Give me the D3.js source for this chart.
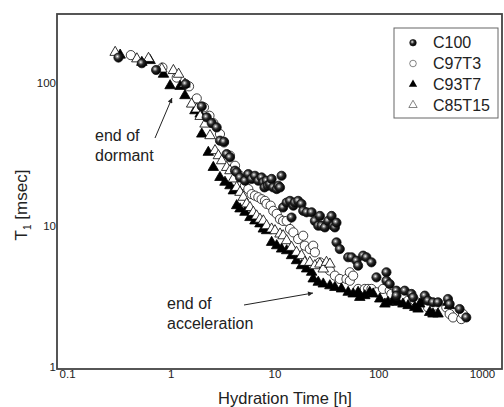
<!DOCTYPE html>
<meta charset="utf-8">
<title>T1 vs hydration time</title>
<style>
body {
  margin: 0;
  background: #fff;
}
text {
  font-family: Arial, "Liberation Sans", sans-serif;
  fill: #222;
}
</style>
<body>
<script src="https://cdnjs.cloudflare.com/ajax/libs/d3/7.8.5/d3.min.js"></script>
<script>
var seriesNames = ["C100", "C97T3", "C93T7", "C85T15"];

// [hydration time (h), T1 (msec)]
var c100 = [[0.313,149],[0.526,136],[0.722,122],[1.39,97.3],[1.99,68.0],[2.22,57.0],[2.48,52.0],[2.77,48.5],
  [2.98,39.2],[3.26,38.5],[3.46,31.6],[3.72,30.0],[4.16,24.2],[4.32,23.6],[4.65,21.7],[5.19,20.6],[5.59,22.9],
  [6.02,21.2],[6.48,22.3],[6.98,20.6],[7.51,21.7],[7.80,20.1],[8.0,18.5],[8.39,20.6],[8.6,19.0],[9.03,19.5],
  [9.38,21.2],[9.73,18.5],[10.5,18.0],[10.9,19.0],[11.3,18.5],[11.7,22.3],[12.1,13.4],[13.1,14.5],[14.1,14.9],
  [14.6,11.4],[15.2,13.8],[15.7,14.5],[16.9,14.9],[18.2,14.2],[18.9,12.7],[20.4,12.4],[22.8,12.4],[24.5,10.8],
  [26.4,10.0],[27.4,11.7],[28.4,10.0],[30.6,9.73],[32.9,10.8],[35.5,11.7],[36.8,10.0],[38.2,9.73],[39.6,10.5],
  [39.6,7.65],[42.6,6.87],[51.3,6.02],[55.2,6.02],[61.7,5.70],[64.0,5.26],[71.5,6.18],[76.9,6.02],[86.0,5.55],
  [96.1,4.36],[120,4.73],[120,4.13],[129,3.92],[150,3.52],[150,3.25],[180,3.52],[209,3.34],[217,3.16],
  [281,3.25],[302,3.00],[337,2.92],[377,2.92],[470,3.08],[488,2.84],[609,2.62],[706,2.29]];

var c97t3 = [[0.412,155],[0.831,127],[1.14,108],[1.50,93.8],[1.78,77.3],[2.09,67.0],[2.36,58.5],[2.57,52.0],
  [2.98,43.6],[3.26,38.1],[3.72,30.8],[4.16,26.2],[4.65,22.3],[5.19,19.0],[5.59,18.0],[6.02,16.6],[6.48,16.2],
  [6.98,15.8],[7.51,15.3],[8.09,14.9],[8.39,14.2],[9.17,13.8],[9.73,12.7],[10.5,12.1],[11.3,11.1],[12.1,10.8],
  [13.1,10.8],[14.1,9.48],[15.2,8.98],[16.9,8.07],[18.9,8.51],[19.6,7.25],[21.9,6.87],[23.6,7.25],[24.5,6.52],
  [27.4,5.55],[30.6,5.26],[34.2,4.86],[38.2,4.48],[42.6,4.25],[49.4,4.25],[53.2,4.73],[53.2,4.13],[57.3,4.48],
  [64.0,3.62],[74.2,3.62],[79.8,3.62],[86.0,3.62],[96.1,3.43],[111,3.62],[129,3.52],[134,3.34],[155,3.16],
  [173,3.16],[194,3.00],[225,3.00],[291,3.00],[302,2.69],[350,2.77],[453,2.69],[488,2.42],[526,2.29],
  [632,2.23],[656,2.42]];

var c93t7 = [[0.325,155],[0.526,138],[0.632,142],[0.850,114],[0.985,94.8],[1.23,93.8],[1.37,80.8],[1.71,63.4],
  [1.92,60.1],[1.99,43.6],[2.30,32.5],[2.57,25.5],[2.98,21.7],[3.33,20.1],[3.72,19.0],[4.01,17.5],[4.32,13.8],
  [4.65,13.1],[5.19,12.4],[5.80,11.4],[6.48,10.8],[7.24,10.3],[7.80,9.48],[8.39,9.23],[9.38,7.65],[10.5,7.25],
  [11.7,6.87],[13.1,6.69],[14.6,6.18],[16.3,5.70],[18.2,5.26],[20.4,4.99],[22.8,4.73],[23.6,4.25],[26.4,4.03],
  [29.5,3.92],[34.2,3.81],[38.2,3.71],[44.2,3.62],[51.3,3.43],[57.3,3.34],[64.0,3.43],[66.4,3.16],[74.2,3.25],
  [82.8,3.43],[89.3,3.34],[103.5,3.08],[116,2.84],[124,2.92],[139,3.00],[155,2.92],[173,2.84],[194,2.77],
  [225,2.69],[242,2.62],[251,2.84],[270,3.00],[313,2.48],[337,2.42],[377,2.42],[470,2.92],[488,2.77]];

var c85t15 = [[0.291,162],[0.471,146],[0.610,147],[0.819,124],[1.06,121],[1.19,114],[1.37,97.3],[1.59,70.6],
  [1.78,65.2],[1.92,57.9],[2.14,51.2],[2.39,42.5],[2.67,33.4],[2.88,30.8],[3.10,28.4],[3.46,25.5],[3.72,24.2],
  [4.01,21.2],[4.32,18.5],[4.65,17.1],[5.00,15.8],[5.39,14.2],[5.80,13.4],[6.25,12.4],[6.72,11.7],[7.24,11.1],
  [7.80,10.8],[8.39,10.0],[9.38,9.48],[10.1,9.23],[11.3,8.75],[12.1,8.51],[13.1,7.86],[14.6,7.06],[16.3,6.52],
  [18.2,6.18],[19.6,5.55],[21.9,5.55],[24.5,5.26],[27.4,5.40],[29.5,4.99],[31.7,5.55],[34.2,5.40]];

var xTicks = [0.1, 1, 10, 100, 1000];
var yTicks = [1, 10, 100];

var w = 504,
    h = 407,
    plotLeft = 57,
    plotRight = 502,
    plotTop = 14,
    plotBottom = 369;

var svg = d3.select("body").append("svg")
    .attr("width", w)
    .attr("height", h);

var defs = svg.append("defs");
var grad = defs.append("radialGradient")
    .attr("id", "ball")
    .attr("cx", "38%").attr("cy", "38%").attr("r", "60%");
grad.append("stop").attr("offset", "0%").attr("stop-color", "#fff");
grad.append("stop").attr("offset", "20%").attr("stop-color", "#999");
grad.append("stop").attr("offset", "50%").attr("stop-color", "#2a2a2a");
grad.append("stop").attr("offset", "100%").attr("stop-color", "#000");

var x = d3.scaleLog().domain([0.08, 1560]).range([plotLeft, plotRight]);
var y = d3.scaleLog().domain([1, 300]).range([plotBottom, plotTop]);

// frame
svg.append("rect")
    .attr("x", plotLeft).attr("y", plotTop)
    .attr("width", plotRight - plotLeft).attr("height", plotBottom - plotTop)
    .style("fill", "none")
    .style("stroke", "#444")
    .style("stroke-width", 1.8);

// axes (labels only, no tick marks)
svg.append("g")
    .attr("transform", "translate(0," + plotBottom + ")")
    .call(d3.axisBottom(x).tickValues(xTicks).tickSize(0).tickPadding(1)
      .tickFormat(function(d) { return d < 1 ? "0.1" : d3.format("d")(d); }))
    .call(function(g) { g.select(".domain").remove(); })
    .selectAll("text")
      .style("font-size", "11.5px")
      .style("font-family", "Arial, 'Liberation Sans', sans-serif")
      .attr("fill", "#222");

svg.append("g")
    .attr("transform", "translate(" + plotLeft + ",0)")
    .call(d3.axisLeft(y).tickValues(yTicks).tickSize(0).tickPadding(1).tickFormat(d3.format("d")))
    .call(function(g) { g.select(".domain").remove(); })
    .selectAll("text")
      .style("font-size", "11.5px")
      .style("font-family", "Arial, 'Liberation Sans', sans-serif")
      .attr("fill", "#222")
      .attr("dy", function(d) { return d === 1 ? "0.1em" : "0.32em"; });

// axis titles
svg.append("text")
    .attr("x", 285).attr("y", 404)
    .attr("text-anchor", "middle")
    .style("font-size", "16.5px")
    .text("Hydration Time [h]");

var yt = svg.append("text")
    .attr("transform", "translate(27,205) rotate(-90)")
    .attr("text-anchor", "middle")
    .style("font-size", "17px");
yt.append("tspan").text("T");
yt.append("tspan").attr("dy", 4).style("font-size", "10px").text("1");
yt.append("tspan").attr("dy", -4).text(" [msec]");

// symbols
var tri = d3.symbol().type(d3.symbolTriangle).size(48);
var triLegend = d3.symbol().type(d3.symbolTriangle).size(30);

function drawCircles(data, r, fill, stroke) {
  svg.append("g").selectAll("circle")
      .data(data)
    .enter().append("circle")
      .attr("cx", function(d) { return x(d[0]); })
      .attr("cy", function(d) { return y(d[1]); })
      .attr("r", r)
      .style("fill", fill)
      .style("stroke", stroke)
      .style("stroke-width", 0.8);
}

function drawTriangles(data, fill) {
  svg.append("g").selectAll("path")
      .data(data)
    .enter().append("path")
      .attr("transform", function(d) { return "translate(" + x(d[0]) + "," + y(d[1]) + ")"; })
      .attr("d", tri)
      .style("fill", fill)
      .style("stroke", "#000")
      .style("stroke-width", 0.8);
}

drawCircles(c97t3, 4.6, "#fff", "#111");
drawTriangles(c93t7, "#000");
drawTriangles(c85t15, "#fff");
drawCircles(c100, 4.6, "url(#ball)", "#111");

// annotations
svg.append("defs").append("marker")
    .attr("id", "arrow")
    .attr("viewBox", "0 0 10 10")
    .attr("refX", 10).attr("refY", 5)
    .attr("markerWidth", 7).attr("markerHeight", 5)
    .attr("orient", "auto")
  .append("path")
    .attr("d", "M0,0L10,5L0,10z")
    .style("fill", "#222");

function note(lines, tx, ty, from, to) {
  var t = svg.append("text")
      .attr("x", tx).attr("y", ty)
      .style("font-size", "16px");
  lines.forEach(function(l, i) {
    t.append("tspan").attr("x", tx).attr("dy", i ? 20 : 0).text(l);
  });
  svg.append("line")
      .attr("x1", from[0]).attr("y1", from[1])
      .attr("x2", to[0]).attr("y2", to[1])
      .style("stroke", "#222")
      .style("stroke-width", 1)
      .attr("marker-end", "url(#arrow)");
}
note(["end of", "dormant"], 95, 141, [155, 138], [172, 98]);
note(["end of", "acceleration"], 167, 309, [244, 305], [313, 293]);

// legend
var lg = svg.append("g");
lg.append("rect")
    .attr("x", 394).attr("y", 28)
    .attr("width", 104).attr("height", 90)
    .style("fill", "#fff")
    .style("stroke", "#666")
    .style("stroke-width", 1);

var rows = lg.selectAll("g.row")
    .data(seriesNames)
  .enter().append("g")
    .attr("transform", function(d, i) { return "translate(413," + (42.7 + i * 20.8) + ")"; });

rows.each(function(d, i) {
  var g = d3.select(this);
  if (i === 0) g.append("circle").attr("r", 3.3).style("fill", "url(#ball)").style("stroke", "#111").style("stroke-width", 0.6);
  if (i === 1) g.append("circle").attr("r", 3.3).style("fill", "#fff").style("stroke", "#333").style("stroke-width", 0.6);
  if (i === 2) g.append("path").attr("d", triLegend).style("fill", "#000");
  if (i === 3) g.append("path").attr("d", triLegend).style("fill", "#fff").style("stroke", "#333").style("stroke-width", 0.6);
  g.append("text")
      .attr("x", 20).attr("dy", "0.35em")
      .style("font-size", "16px")
      .text(d);
});
</script>
